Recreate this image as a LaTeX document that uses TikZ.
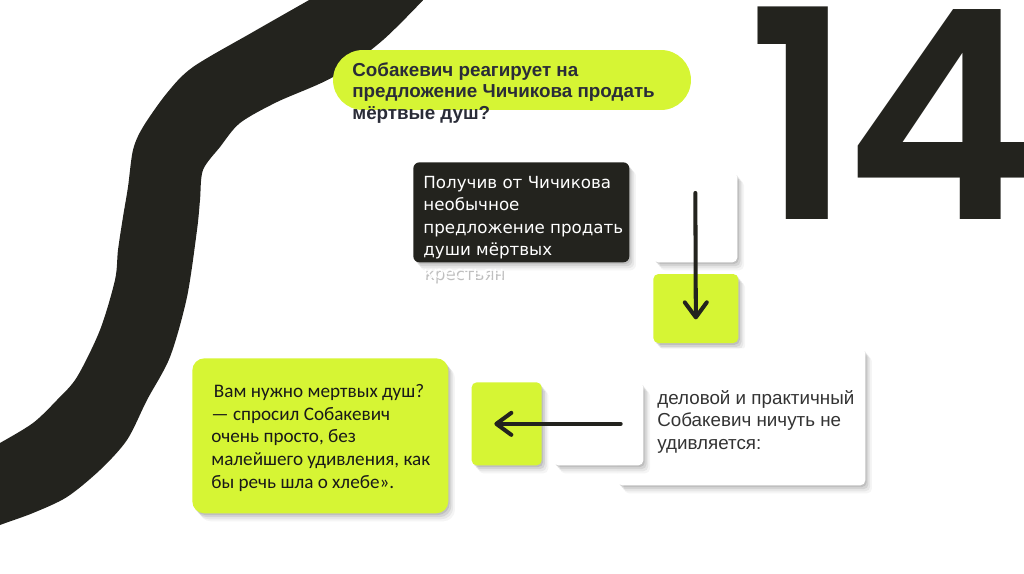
\documentclass[tikz,border=0pt]{standalone}
\usepackage{fontspec}
\setmainfont{Liberation Sans}
\newfontfamily\carlito{Carlito}
\newfontfamily\dejavu{DejaVu Sans}
\newfontfamily\numfont{Poppins SemiBold}
\usetikzlibrary{positioning, arrows.meta, calc, shadows}
\definecolor{lime}{HTML}{D6F534}
\definecolor{ink}{HTML}{23231E}
\definecolor{navy}{HTML}{2A2C38}

\begin{document}
\begin{tikzpicture}[x=0.02cm, y=-0.02cm, >={Straight Barb[length=3mm, width=4.4mm, round]},
  softshadow/.style={drop shadow={shadow xshift=0.8pt, shadow yshift=-1pt, opacity=.10, fill=black},
                     drop shadow={shadow xshift=1.8pt, shadow yshift=-2.2pt, opacity=.08, fill=black},
                     drop shadow={shadow xshift=2.8pt, shadow yshift=-3.4pt, opacity=.06, fill=black},
                     drop shadow={shadow xshift=3.8pt, shadow yshift=-4.6pt, opacity=.04, fill=black}},
  card/.style={inner sep=0pt, rounded corners=0.1cm, softshadow, anchor=north west},
  arr/.style={->, line width=2.3pt, draw=ink, line cap=round},
  every node/.style={inner sep=0pt}]
  \useasboundingbox (0,0) rectangle (1024,574);
  \begin{scope}
    \clip (0,0) rectangle (1024,574);
    \fill[ink] plot[smooth] coordinates {(318,-5) (253,32) (193,67) (167,93) (143,127) (133,150) (128,187)
        (123,217) (118,250) (115,280) (100,330) (77,377) (57,400) (33,423) (0,443) (-10,448)}
      -- plot[smooth] coordinates {(-10,530) (0,525) (33,513) (67,497) (100,470) (127,440) (147,400)
        (170,357) (187,297) (197,230) (200,200) (203,170) (220,147) (240,123) (277,102) (333,77) (383,40) (428,-5)}
      -- cycle;
  \end{scope}

  \node[anchor=base west, text=ink, font=\numfont\fontsize{166}{166}\selectfont] (num) at (747,220) {1\kern-5pt4};

  \node[fill=lime, rounded corners=0.6cm, minimum width=7.16cm, minimum height=1.2cm] (pill) at (512,80) {};
  \node[anchor=north west, align=left, text=navy, font=\bfseries\fontsize{10.7}{12.2}\selectfont]
    (question) at (352,62) {Собакевич реагирует на\\предложение Чичикова продать\\мёртвые душ?};

  \node[anchor=north west, align=left, text=black!25, font=\dejavu\fontsize{9.5}{12.75}\selectfont]
    (offershadow) at (424.5,178) {Получив от Чичикова\\необычное\\предложение продать\\души мёртвых\\крестьян};
  \node[card, fill=ink, rounded corners=0.12cm, minimum width=4.32cm, minimum height=2cm] (offer) at (413,162) {};
  \node[anchor=north west, align=left, text=white, font=\dejavu\fontsize{9.5}{12.75}\selectfont]
    (offertext) at (423,176) {Получив от Чичикова\\необычное\\предложение продать\\души мёртвых\\крестьян};

  \node[card, fill=white, minimum width=1.68cm, minimum height=1.8cm] (wtop) at (653,172) {};
  \node[card, fill=lime, minimum width=1.7cm, minimum height=1.38cm, below right=0.22cm and 0cm of wtop.south west] (gtop) {};

  \node[card, fill=white, minimum width=4.96cm, minimum height=2.74cm] (calm) at (617,348) {};
  \node[anchor=west, align=left, text=black!80, font=\fontsize{10.7}{13}\selectfont]
    (calmtext) at ($(calm.west)+(40,5)$) {деловой и практичный\\Собакевич ничуть не\\удивляется:};

  \node[card, fill=white, minimum width=1.8cm, minimum height=1.66cm] (wsmall) at (553,382) {};
  \node[card, fill=lime, minimum width=1.4cm, minimum height=1.66cm, anchor=east, left=0.22cm of wsmall] (gsmall) {};

  \node[card, fill=lime, rounded corners=0.24cm, minimum width=5.12cm, minimum height=3.1cm] (reply) at (192,358) {};
  \node[anchor=west, align=left, text=black!90, font=\carlito\fontsize{10.9}{12.9}\selectfont]
    (replytext) at ($(reply.west)+(19,2)$) {\hspace*{1.5pt}Вам нужно мертвых душ?\\— спросил Собакевич\\очень просто, без\\малейшего удивления, как\\бы речь шла о хлебе».};

  \draw[arr] ($(wtop.north)+(0,21)$) -- ($(gtop.south)+(0,-24)$);
  \draw[arr] ($(wsmall.east)+(-23,0)$) -- ($(gsmall.west)+(23,0)$);
\end{tikzpicture}
\end{document}
